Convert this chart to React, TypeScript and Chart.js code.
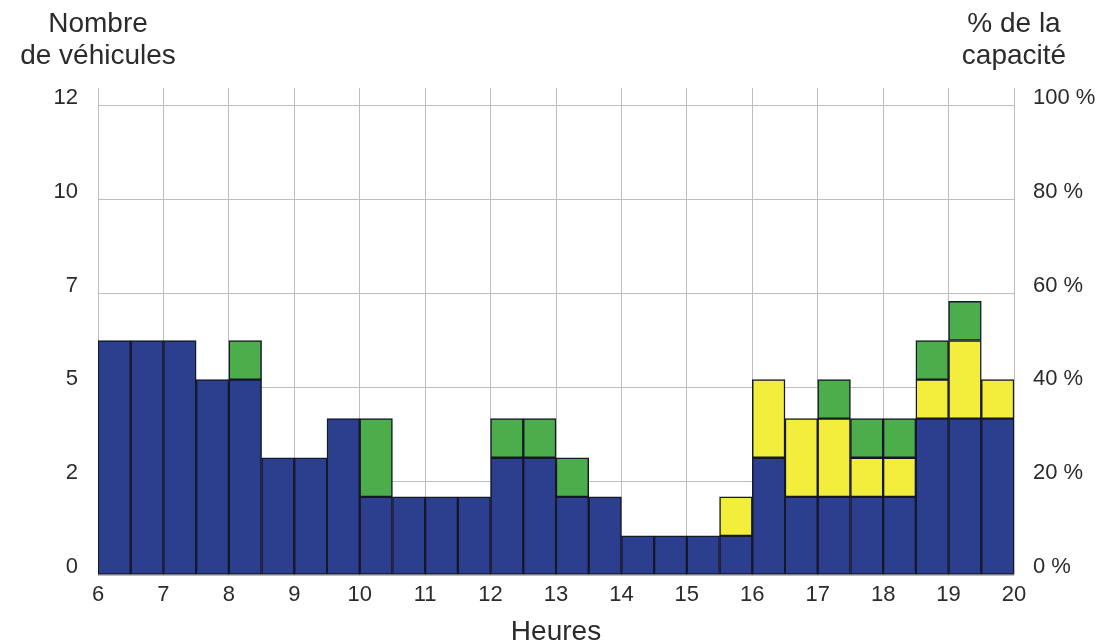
import React, { useEffect, useRef } from "react";
import { Chart, registerables } from "chart.js";

Chart.register(...registerables);

// Half-hour slots (start hour of each bar)
const slotStarts = [
  6, 6.5, 7, 7.5, 8, 8.5, 9, 9.5, 10, 10.5, 11, 11.5, 12, 12.5,
  13, 13.5, 14, 14.5, 15, 15.5, 16, 16.5, 17, 17.5, 18, 18.5, 19, 19.5,
];
// Vehicles per category (stacked: blue bottom, yellow, green top)
const blueVehicles = [6, 6, 6, 5, 5, 3, 3, 4, 2, 2, 2, 2, 3, 3, 2, 2, 1, 1, 1, 1, 3, 2, 2, 2, 2, 4, 4, 4];
const yellowVehicles = [0, 0, 0, 0, 0, 0, 0, 0, 0, 0, 0, 0, 0, 0, 0, 0, 0, 0, 0, 1, 2, 2, 2, 1, 1, 1, 2, 1];
const greenVehicles = [0, 0, 0, 0, 1, 0, 0, 0, 2, 0, 0, 0, 1, 1, 1, 0, 0, 0, 0, 0, 0, 0, 1, 1, 1, 1, 1, 0];

// Axis ticks
const yTickValues = [0, 2.4, 4.8, 7.2, 9.6, 12];
const leftTickLabels = ["0", "2", "5", "7", "10", "12"];
const rightTickLabels = ["0 %", "20 %", "40 %", "60 %", "80 %", "100 %"];
const hourTicks = [6, 7, 8, 9, 10, 11, 12, 13, 14, 15, 16, 17, 18, 19, 20];

const leftTitle = ["Nombre", "de véhicules"];
const rightTitle = ["% de la", "capacité"];
const xTitle = "Heures";

const FONT = '"Liberation Sans", Arial, Helvetica, sans-serif';
const TEXT = "#2b2b2b";
const GRID = "#bdbdbd";
const BORDER = "#15172a";

function toPoints(values: number[]) {
  return slotStarts.map((s, i) => ({ x: s + 0.25, y: values[i] === 0 ? null : values[i] }));
}

const titlesPlugin = {
  id: "titles",
  afterDraw(chart: any) {
    const { ctx, chartArea } = chart;
    ctx.save();
    ctx.fillStyle = TEXT;
    ctx.font = `28px ${FONT}`;
    ctx.textAlign = "center";
    ctx.textBaseline = "alphabetic";
    ctx.fillText(leftTitle[0], chartArea.left, 32);
    ctx.fillText(leftTitle[1], chartArea.left, 64);
    ctx.fillText(rightTitle[0], chartArea.right, 32);
    ctx.fillText(rightTitle[1], chartArea.right, 64);
    ctx.fillText(xTitle, (chartArea.left + chartArea.right) / 2, 640);
    ctx.restore();
  },
};

export default function App() {
  const ref = useRef<HTMLCanvasElement | null>(null);

  useEffect(() => {
    if (!ref.current) return;
    const common = {
      borderColor: BORDER,
      borderWidth: 1.5,
      borderSkipped: false as const,
      barPercentage: 1,
      categoryPercentage: 1,
    };
    const setTicks = (scale: any) => {
      scale.ticks = yTickValues.map((v) => ({ value: v }));
    };
    const chart = new Chart(ref.current, {
      type: "bar",
      data: {
        datasets: [
          { label: "blue", data: toPoints(blueVehicles) as any, backgroundColor: "#2c3f8e", ...common },
          { label: "yellow", data: toPoints(yellowVehicles) as any, backgroundColor: "#f3ee3b", ...common },
          { label: "green", data: toPoints(greenVehicles) as any, backgroundColor: "#4cae4a", ...common },
        ],
      },
      options: {
        animation: false,
        responsive: true,
        maintainAspectRatio: false,
        layout: { padding: { top: 88, left: 0, right: 0, bottom: 0 } },
        plugins: { legend: { display: false }, tooltip: { enabled: false } },
        scales: {
          x: {
            type: "linear",
            stacked: true,
            offset: false,
            min: 6,
            max: 20,
            afterBuildTicks: (scale: any) => {
              scale.ticks = hourTicks.map((v) => ({ value: v }));
            },
            afterFit: (scale: any) => {
              scale.height = 69;
            },
            grid: { color: GRID, lineWidth: 1, drawTicks: false, offset: false },
            border: { display: false },
            ticks: {
              color: TEXT,
              font: { size: 22, family: FONT },
              padding: 7,
              maxRotation: 0,
              autoSkip: false,
              callback: (v: any) => String(v),
            },
          },
          y: {
            type: "linear",
            stacked: true,
            position: "left",
            min: 0,
            max: 12.46,
            afterBuildTicks: setTicks,
            afterFit: (scale: any) => {
              scale.width = 98;
            },
            grid: { color: GRID, lineWidth: 1, drawTicks: false },
            border: { display: false },
            ticks: {
              color: TEXT,
              font: { size: 22, family: FONT },
              padding: 20,
              labelOffset: -8,
              callback: (_v: any, i: number) => leftTickLabels[i],
            },
          },
          y2: {
            type: "linear",
            position: "right",
            min: 0,
            max: 12.46,
            afterBuildTicks: setTicks,
            afterFit: (scale: any) => {
              scale.width = 98;
            },
            grid: { display: false, drawTicks: false },
            border: { display: false },
            ticks: {
              color: TEXT,
              font: { size: 22, family: FONT },
              padding: 19,
              labelOffset: -8,
              callback: (_v: any, i: number) => rightTickLabels[i],
            },
          },
        },
      },
      plugins: [titlesPlugin],
    });
    return () => chart.destroy();
  }, []);

  return (
    <div style={{ position: "absolute", left: 0, top: 0, width: 1112, height: 644, background: "#fff" }}>
      <canvas ref={ref} />
    </div>
  );
}
